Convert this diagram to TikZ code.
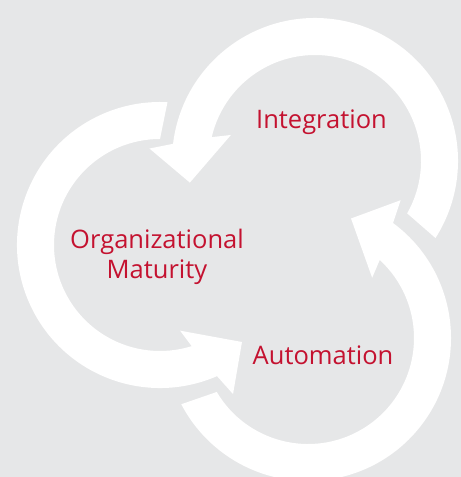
\documentclass[tikz,border=0pt]{standalone}
\usepackage{fontspec}
\setmainfont{Open Sans}
\usetikzlibrary{calc}
\definecolor{bggray}{RGB}{230,231,232}
\definecolor{labred}{RGB}{196,18,48}
% #1 centre, #2 tail angle (inner edge), #3 angle of the inner barb
\newcommand{\cyclearrow}[3]{%
  \fill[white] ($(#1)+(#2:106bp)$) arc[start angle=#2, end angle=#3+4.2, radius=106bp]
    -- ($(#1)+(#3:88bp)$) -- ($(#1)+(#3+27:127bp)$) -- ($(#1)+(#3+12.9:166bp)$)
    -- ($(#1)+(#3+10.3:143bp)$)
    arc[start angle=#3+10.3, end angle=#2-3, radius=143bp] -- cycle;}
\tikzset{lab/.style={text=labred, inner sep=0pt, font=\fontsize{25.5bp}{30bp}\selectfont}}
\begin{document}
\begin{tikzpicture}[x=1bp,y=1bp]
  \fill[bggray] (0,0) rectangle (461,477);
  \useasboundingbox (0,0) rectangle (461,477);
  \clip (0,0) rectangle (461,477);
  \coordinate (c1) at (315,316);
  \coordinate (c2) at (160,232);
  \coordinate (c3) at (308,139);
  \cyclearrow{c1}{-29.6}{162.8}
  \cyclearrow{c2}{90}{283.2}
  \cyclearrow{c3}{210.6}{403.2}
  \node[lab, anchor=base] (integ) at (321.5,348) {Integration};
  \node[lab, anchor=base, align=center] (org) at (157,198) {Organizational\\Maturity};
  \node[lab, anchor=base] (autom) at (323,112) {Automation};
\end{tikzpicture}
\end{document}
